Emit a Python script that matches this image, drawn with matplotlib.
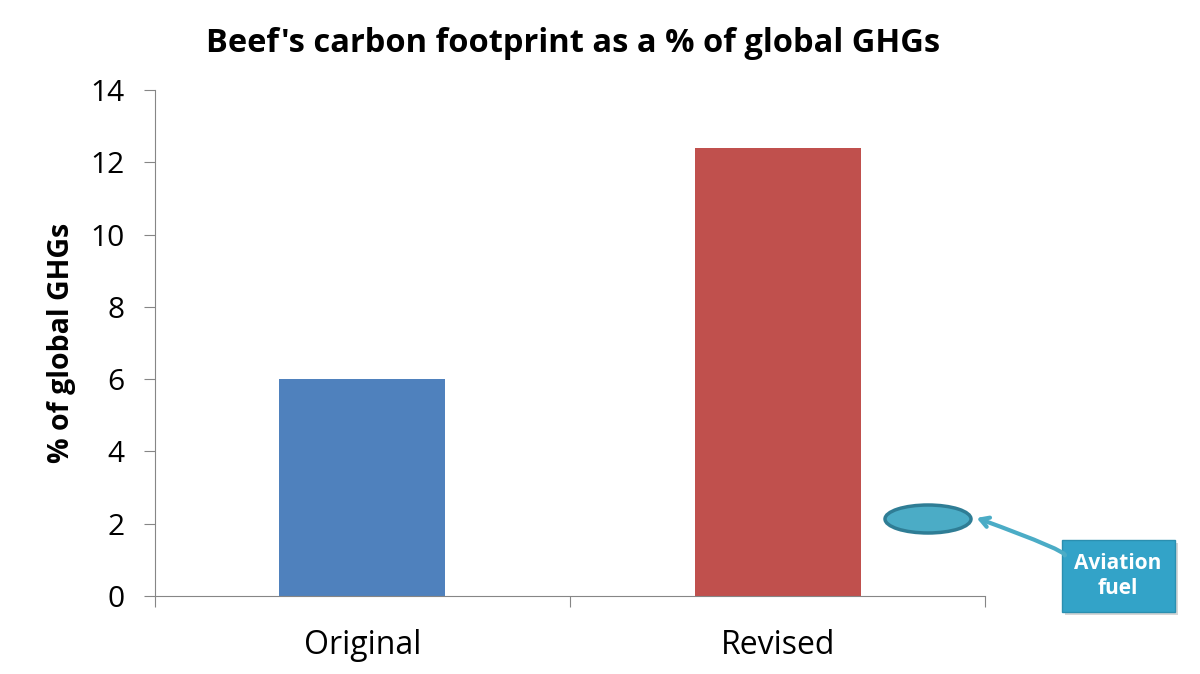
import matplotlib.pyplot as plt
from matplotlib.patches import Ellipse, FancyBboxPatch
import numpy as np

categories = ["Original", "Revised"]
values = [6.0, 12.4]
colors = ["#4f81bd", "#c0504d"]
yticks = [0, 2, 4, 6, 8, 10, 12, 14]

plt.rcParams['font.family'] = ['Open Sans', 'DejaVu Sans']

fig = plt.figure(figsize=(12, 6.74), dpi=100)
ax = fig.add_axes([0.129, 0.1157, 0.692, 0.7508])

x = np.arange(len(categories))
ax.bar(x, values, width=0.4, color=colors)
ax.set_xlim(-0.5, 1.5)
ax.set_ylim(0, 14)
ax.set_yticks(yticks)
ax.set_yticklabels([str(t) for t in yticks], fontsize=21.5)
ax.set_xticks([-0.5, 0.5, 1.5])
ax.set_xticklabels([])
ax.set_xticks(x, minor=True)
ax.set_xticklabels(categories, minor=True, fontsize=23)
ax.tick_params(axis='x', which='minor', length=0, pad=24)
ax.tick_params(axis='x', which='major', length=8, color='#868686', direction='out')
ax.tick_params(axis='y', length=8, color='#868686', direction='out', pad=14)
for s in ['top', 'right']:
    ax.spines[s].set_visible(False)
for s in ['left', 'bottom']:
    ax.spines[s].set_color('#868686')
ax.set_ylabel("% of global GHGs", fontsize=20.5, fontweight='bold', labelpad=10)
fig.text(0.4775, 0.935, "Beef's carbon footprint as a % of global GHGs",
         ha='center', va='center', fontsize=23.5, fontweight='bold')

# annotation: ellipse + callout box
ell = Ellipse((928 / 1200, 1 - 519 / 674), 86 / 1200, 28 / 674,
              transform=fig.transFigure, facecolor='#4bacc6',
              edgecolor='#2f7d95', linewidth=2.5)
fig.add_artist(ell)

shadow = FancyBboxPatch((1065 / 1200, 1 - 615 / 674), 113 / 1200, 72 / 674,
                        boxstyle='square,pad=0', transform=fig.transFigure,
                        facecolor='#bbbbbb', edgecolor='none', alpha=0.6)
fig.add_artist(shadow)
box = FancyBboxPatch((1062 / 1200, 1 - 612 / 674), 113 / 1200, 72 / 674,
                     boxstyle='square,pad=0', transform=fig.transFigure,
                     facecolor='#33a3c8', edgecolor='#2b8fb0', linewidth=1)
fig.add_artist(box)
fig.text(1118 / 1200, 1 - 576 / 674, "Aviation\nfuel", ha='center', va='center',
         color='white', fontsize=15, fontweight='bold', linespacing=1.3)

fig.add_artist(plt.Annotation("", xy=(974 / 1200, 1 - 517 / 674),
                              xytext=(1062 / 1200, 1 - 556 / 674),
                              xycoords='figure fraction', textcoords='figure fraction',
                              arrowprops=dict(arrowstyle='->,head_length=0.6,head_width=0.35',
                                              color='#4bacc6', lw=3,
                                              connectionstyle='angle3,angleA=180,angleB=-20')))

fig.savefig("out.png", dpi=100)
